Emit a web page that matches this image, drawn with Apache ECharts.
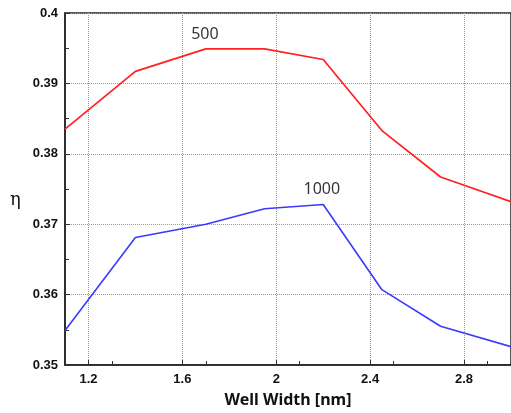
<!DOCTYPE html>
<html><head><meta charset="utf-8">
<script src="https://cdn.jsdelivr.net/npm/echarts@6/dist/echarts.min.js"></script>
<style>html,body{margin:0;padding:0;background:#fff}#c{width:511px;height:413px}</style>
</head><body><div id="c"></div>
<script>
var wellWidth = [1.1, 1.4, 1.7, 1.95, 2.2, 2.45, 2.7, 3.0];
var eta500 = [0.3835, 0.3917, 0.3949, 0.3949, 0.3934, 0.3833, 0.3767, 0.3732];
var eta1000 = [0.3549, 0.3681, 0.3700, 0.3722, 0.3728, 0.3607, 0.3555, 0.3526];
var labelNames = ['500', '1000'];
var labelX = [1.696, 2.194];
var labelY = [0.3969, 0.3749];

function pairs(xs, ys){ return xs.map(function(x,i){return [x, ys[i]];}); }

var chart = echarts.init(document.getElementById('c'));
var axisCommon = {
  axisLine: {show: true, onZero: false, lineStyle: {color: '#222', width: 1.5}},
  axisTick: {show: true, inside: true, length: 5, lineStyle: {color: '#333'}},
  minorTick: {show: true, splitNumber: 2, length: 4, lineStyle: {color: '#333'}},
  splitLine: {show: true, lineStyle: {color: '#999', type: [1, 1], width: 1}},
  axisLabel: {color: '#111', fontFamily: 'Liberation Sans, Arial', fontWeight: 'bold', fontSize: 13}
};
chart.setOption({
  animation: false,
  grid: {left: 65, top: 13, width: 447, height: 353, show: true, borderColor: '#222', borderWidth: 1.5},
  graphic: [{type: 'text', left: 10, top: 191, style: {text: 'η', font: '18px "DejaVu Serif"', fill: '#111'}}],
  xAxis: Object.assign({}, axisCommon, {
    type: 'value', min: 1.1, max: 3.0, interval: 0.4,
    axisLabel: Object.assign({}, axisCommon.axisLabel, {margin: 8,
      customValues: [1.2, 1.6, 2.0, 2.4, 2.8],
      formatter: function(v){ return String(+v.toFixed(1)); }}),
    axisTick: Object.assign({}, axisCommon.axisTick, {customValues: [1.2, 1.6, 2.0, 2.4, 2.8]}),
    name: 'Well Width [nm]', nameLocation: 'middle', nameGap: 27,
    nameTextStyle: {fontFamily: 'Noto Sans, Open Sans', fontWeight: 'bold', fontSize: 16, color: '#111'}
  }),
  yAxis: Object.assign({}, axisCommon, {
    type: 'value', min: 0.35, max: 0.4, interval: 0.01,
    axisLabel: Object.assign({}, axisCommon.axisLabel, {margin: 7,
      formatter: function(v){ return String(+v.toFixed(2)); }})
  }),
  series: [
    {type: 'line', data: pairs(wellWidth, eta500), symbol: 'none', clip: false,
     lineStyle: {color: '#ff2020', width: 1.7}},
    {type: 'line', data: pairs(wellWidth, eta1000), symbol: 'none', clip: false,
     lineStyle: {color: '#3a3aff', width: 1.6}},
    {type: 'scatter', data: labelX.map(function(x,i){return {value: [x, labelY[i]], name: labelNames[i]};}),
     symbolSize: 1, itemStyle: {color: 'rgba(0,0,0,0)'}, silent: true,
     label: {show: true, position: 'inside', formatter: '{b}', color: '#000', fontFamily: 'Noto Sans, Open Sans', fontSize: 16}}
  ]
});
</script></body></html>
